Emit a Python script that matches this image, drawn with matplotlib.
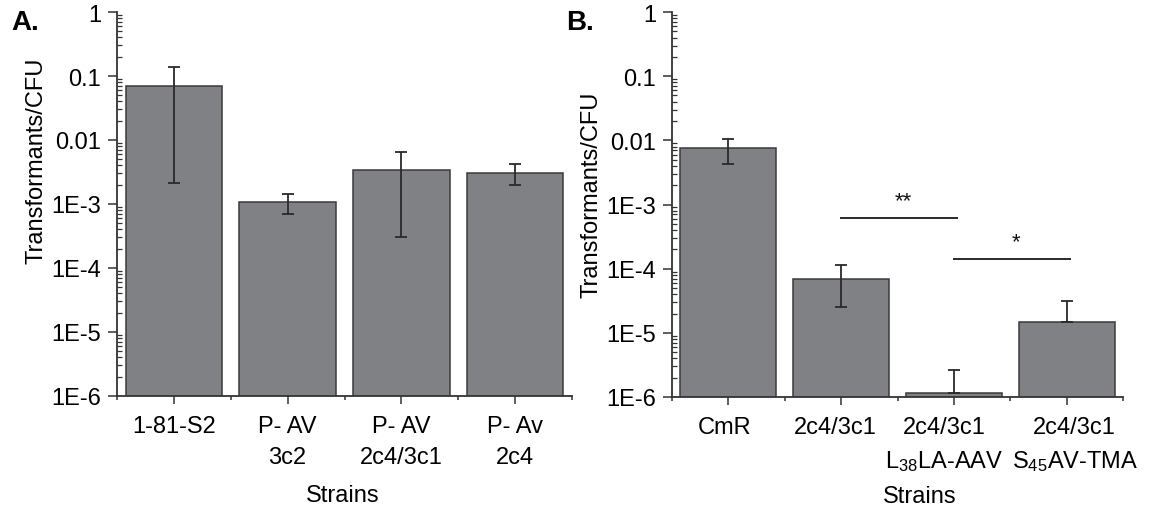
import matplotlib
matplotlib.use("Agg")
import matplotlib.pyplot as plt
import numpy as np
from matplotlib.ticker import FixedLocator, LogLocator, NullFormatter
from matplotlib.transforms import ScaledTranslation

plt.rcParams['font.family'] = ['Liberation Sans', 'DejaVu Sans']
plt.rcParams['mathtext.fontset'] = 'custom'
plt.rcParams['mathtext.rm'] = 'Liberation Sans'
plt.rcParams['mathtext.default'] = 'regular'

# ---- data ----
a_strains = ['1-81-S2', 'P- AV\n3c2', 'P- AV\n2c4/3c1', 'P- Av\n2c4']
a_values = [0.069, 1.07e-3, 3.4e-3, 3.1e-3]
a_err_high = [0.137, 1.44e-3, 6.4e-3, 4.2e-3]
a_err_low = [2.1e-3, 7.1e-4, 3.1e-4, 2.0e-3]

b_strains = ['CmR', '2c4/3c1', '2c4/3c1\n$L_{38}$LA-AAV', '2c4/3c1\n$S_{45}$AV-TMA']
b_values = [7.5e-3, 7.0e-5, 1.15e-6, 1.5e-5]
b_err_high = [1.06e-2, 1.15e-4, 2.6e-6, 3.1e-5]
b_err_low = [4.3e-3, 2.5e-5, 1.15e-6, 1.5e-5]

y_ticks = [1e-6, 1e-5, 1e-4, 1e-3, 1e-2, 1e-1, 1]
y_ticklabels = ['1E-6', '1E-5', '1E-4', '1E-3', '0.01', '0.1', '1']

sig_pairs = [(1, 2, 6.1e-4, '**'), (2, 3, 1.4e-4, '*')]

BAR = '#808184'
EDGE = '#3a3a3a'
FS = 17

fig = plt.figure(figsize=(11.6, 5.1), dpi=100)
axA = fig.add_axes([117/1160, 113/510, 455/1160, 384/510])
axB = fig.add_axes([672/1160, 112/510, 451/1160, 385/510])


def draw(ax, labels, vals, hi, lo):
    x = np.arange(len(vals))
    ax.bar(x, vals, width=0.85, color=BAR, edgecolor=EDGE, linewidth=1.1, zorder=2)
    v = np.array(vals)
    yerr = np.vstack([v - np.array(lo), np.array(hi) - v])
    ax.errorbar(x, v, yerr=yerr, fmt='none', ecolor='#2a2a2a', elinewidth=1.3,
                capsize=4.3, capthick=1.3, zorder=3)
    ax.set_yscale('log')
    ax.set_ylim(1e-6, 1)
    ax.set_xlim(-0.5, len(vals) - 0.5)
    ax.yaxis.set_major_locator(FixedLocator(y_ticks))
    ax.set_yticklabels(y_ticklabels)
    ax.yaxis.set_minor_locator(LogLocator(base=10, subs=np.arange(2, 10)))
    ax.yaxis.set_minor_formatter(NullFormatter())
    ax.set_xticks(x)
    ax.set_xticklabels(labels, linespacing=1.5)
    ax.set_xticks(np.arange(-0.5, len(vals), 1.0), minor=True)
    for s in ['top', 'right']:
        ax.spines[s].set_visible(False)
    for s in ['left', 'bottom']:
        ax.spines[s].set_color('#333333')
        ax.spines[s].set_linewidth(1.3)
    ax.tick_params(axis='y', which='major', direction='out', length=6.5, width=1.1,
                   color='#333333', labelsize=FS, pad=5)
    ax.tick_params(axis='y', which='minor', direction='in', length=3.5, width=0.9,
                   color='#333333')
    ax.tick_params(axis='x', which='major', direction='out', length=6, width=1.1,
                   color='#333333', labelsize=FS, pad=8)
    ax.tick_params(axis='x', which='minor', direction='out', length=3, width=1.1,
                   color='#333333')


draw(axA, a_strains, a_values, a_err_high, a_err_low)
draw(axB, b_strains, b_values, b_err_high, b_err_low)

# horizontal nudges of panel B category labels (as in the original layout)
for lab, dx in zip(axB.get_xticklabels(), [-4, -6, -10, 8]):
    lab.set_transform(lab.get_transform() + ScaledTranslation(dx / 100, 0, fig.dpi_scale_trans))

for x0, x1, y, star in sig_pairs:
    axB.plot([x0, x1 + 0.03], [y, y], color='#2a2a2a', lw=1.4, zorder=4)
    axB.text((x0 + x1) / 2 + 0.05, y * 1.3, star, ha='center', va='bottom',
             fontsize=16, color='#111111')

# axis titles
fig.text(37/1160, 1 - 161/510, 'Transformants/CFU', rotation=90, ha='center', va='center', fontsize=FS)
fig.text(592/1160, 1 - 195/510, 'Transformants/CFU', rotation=90, ha='center', va='center', fontsize=FS)
fig.text(343/1160, 1 - 496/510, 'Strains', ha='center', va='center', fontsize=FS)
fig.text(920/1160, 1 - 497/510, 'Strains', ha='center', va='center', fontsize=FS)

fig.text(11/1160, 1 - 23/510, 'A.', ha='left', va='center', fontsize=20, fontweight='bold')
fig.text(566/1160, 1 - 23/510, 'B.', ha='left', va='center', fontsize=20, fontweight='bold')

fig.savefig('out.png', dpi=100)
